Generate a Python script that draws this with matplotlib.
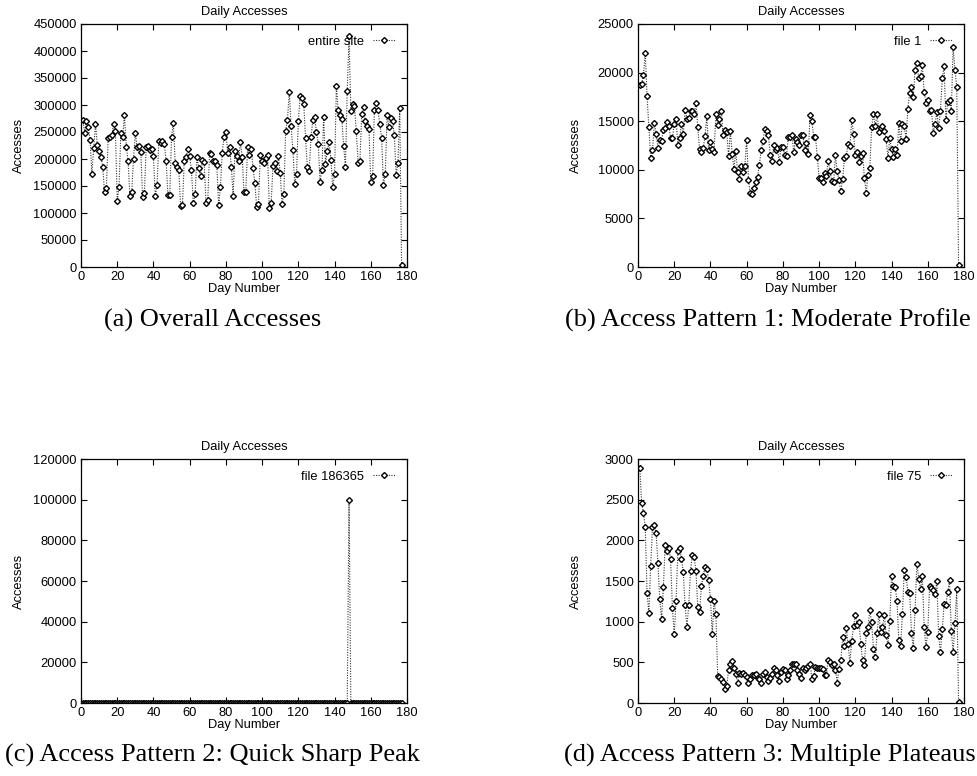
import matplotlib
matplotlib.use("Agg")
import matplotlib.pyplot as plt
import numpy as np

days = list(range(1, 178))

entire_site = [
    273000, 249000, 270000, 260000, 236000, 172000, 220000, 265000, 226000, 214000,
    203000, 186000, 138000, 146000, 238000, 241000, 244000, 264000, 252000, 123000,
    148000, 248000, 241000, 281000, 223000, 196000, 131000, 139000, 200000, 248000,
    222000, 225000, 213000, 130000, 137000, 222000, 224000, 216000, 218000, 205000,
    131000, 152000, 234000, 229000, 233000, 227000, 197000, 133000, 133000, 241000,
    267000, 193000, 186000, 180000, 113000, 114000, 197000, 203000, 218000, 205000,
    179000, 118000, 135000, 203000, 184000, 168000, 198000, 195000, 119000, 125000,
    212000, 210000, 196000, 197000, 188000, 114000, 149000, 212000, 241000, 250000,
    212000, 222000, 186000, 132000, 215000, 206000, 197000, 231000, 204000, 139000,
    139000, 222000, 207000, 219000, 183000, 155000, 111000, 117000, 208000, 197000,
    192000, 202000, 208000, 110000, 119000, 187000, 193000, 178000, 205000, 175000,
    117000, 135000, 252000, 273000, 325000, 262000, 217000, 154000, 172000, 270000,
    317000, 313000, 301000, 238000, 185000, 178000, 240000, 273000, 277000, 250000,
    228000, 157000, 180000, 277000, 191000, 215000, 231000, 199000, 148000, 172000,
    335000, 291000, 281000, 275000, 225000, 185000, 326000, 427000, 289000, 302000,
    298000, 252000, 193000, 197000, 283000, 296000, 270000, 262000, 256000, 157000,
    168000, 290000, 304000, 291000, 264000, 239000, 151000, 173000, 281000, 260000,
    276000, 271000, 244000, 171000, 193000, 295000, 3000,
]

file_1 = [
    18700, 18800, 19800, 22000, 17600, 14400, 11200, 12000, 14800, 13700,
    12200, 13100, 13000, 14100, 14300, 14900, 14500, 13300, 13300, 14700,
    15200, 12600, 13300, 14700, 13700, 16200, 15200, 15300, 16100, 16100,
    15700, 16900, 14400, 12100, 11800, 12200, 13500, 15500, 12000, 12900,
    12100, 11800, 15700, 14600, 15200, 16000, 13600, 14100, 13900, 11400,
    14000, 11600, 10100, 11900, 9800, 9100, 10400, 9800, 10400, 13100,
    9000, 7600, 7500, 8100, 8700, 9300, 10500, 12000, 13000, 14200,
    14000, 13600, 11500, 10900, 12600, 12000, 12200, 10800, 12300, 12300,
    11500, 11400, 13400, 13400, 13600, 11800, 13200, 12900, 12600, 13600,
    13600, 12000, 12800, 11600, 15600, 15000, 13400, 13400, 11300, 9200,
    9200, 8700, 9700, 9400, 10900, 9900, 8800, 8700, 11500, 9900,
    8900, 7800, 9100, 11200, 11400, 12700, 12400, 15100, 13700, 11500,
    11800, 10800, 11400, 11700, 9200, 7600, 9500, 10200, 14400, 15700,
    14500, 15700, 13900, 14300, 14500, 14000, 13200, 11200, 13300, 12100,
    11300, 12100, 11500, 14800, 13000, 14700, 14500, 13200, 16300, 17900,
    18500, 17500, 20300, 21000, 19400, 19600, 20800, 18000, 16900, 17200,
    16000, 16200, 13800, 14700, 15900, 14300, 16100, 19400, 20700, 15100,
    17000, 17200, 16100, 22600, 20300, 18500, 200,
]

file_186365 = [0] * 147 + [100000] + [0] * 29

file_75 = [
    2885, 2460, 2340, 2165, 1355, 1110, 1690, 2160, 2185, 2090,
    1725, 1280, 1030, 1425, 1940, 1875, 1905, 1765, 1170, 845,
    1255, 1865, 1910, 1765, 1610, 1200, 930, 1200, 1625, 1815,
    1790, 1620, 1180, 1125, 1435, 1560, 1670, 1645, 1515, 1280,
    850, 1255, 1090,
    335, 320, 300, 255, 175, 210, 405, 480, 515, 435,
    360, 245, 365, 355, 370, 340, 320, 245, 295, 350,
    340, 360, 305, 290, 245, 355, 380, 325, 270, 310,
    360, 430, 405, 340, 270, 380,
    423, 400, 300, 340, 410, 485, 485, 485, 410, 360,
    312, 430, 410, 435, 455, 485, 300, 330, 445, 435,
    435, 430, 423, 340, 340, 525, 505, 470, 485, 410,
    250, 420, 525, 815, 700, 925, 730, 495, 760, 945,
    1080, 955, 1000, 730, 525, 465, 855, 935, 1145, 990,
    670, 560, 855, 1100, 875, 935, 1085, 835, 710, 1010,
    1560, 1440, 1430, 1255, 780, 700, 1095, 1630, 1555, 1370,
    1355, 865, 675, 1145, 1715, 1530, 1400, 1565, 935, 690,
    875, 1440, 1420, 1385, 1335, 1505, 825, 625, 905, 1215,
    1205, 1365, 1510, 885, 625, 980, 1400, 10,
]

panels = [
    dict(y=entire_site, label="entire site", ymax=450000, ystep=50000,
         caption="(a) Overall Accesses"),
    dict(y=file_1, label="file 1", ymax=25000, ystep=5000,
         caption="(b) Access Pattern 1: Moderate Profile"),
    dict(y=file_186365, label="file 186365", ymax=120000, ystep=20000,
         caption="(c) Access Pattern 2: Quick Sharp Peak"),
    dict(y=file_75, label="file 75", ymax=3000, ystep=500,
         caption="(d) Access Pattern 3: Multiple Plateaus"),
]

W, H = 978, 776
fig = plt.figure(figsize=(W / 100, H / 100), dpi=100)
plt.rcParams['font.family'] = ['Liberation Sans', 'DejaVu Sans']

# axes rectangles in pixels: left, top, right, bottom
rects = [(81, 24, 407, 267), (638, 24, 964, 267),
         (81, 459, 407, 703), (638, 459, 964, 703)]
cap_pos = [(213, 320), (768, 320), (212, 755), (770, 755)]

fs = 9.3
for p, r, cp in zip(panels, rects, cap_pos):
    l, t, rr, b = r
    ax = fig.add_axes([l / W, 1 - b / H, (rr - l) / W, (b - t) / H])
    n = min(len(days), len(p["y"]))
    ax.plot(days[:n], p["y"][:n], linestyle=(0, (1, 1.3)), color="#333333",
            lw=0.8, marker="D", markersize=3.0, markerfacecolor="white",
            markeredgecolor="black", markeredgewidth=1.0, label=p["label"])
    ax.set_xlim(0, 180)
    ax.set_ylim(0, p["ymax"])
    ax.set_xticks(np.arange(0, 181, 20))
    ax.set_yticks(np.arange(0, p["ymax"] + 1, p["ystep"]))
    ax.tick_params(direction="in", length=4, width=0.8, top=True, right=True,
                   labelsize=fs, pad=3)
    for s in ax.spines.values():
        s.set_linewidth(0.9)
    ax.set_title("Daily Accesses", fontsize=fs, pad=6.5)
    ax.set_xlabel("Day Number", fontsize=fs, labelpad=0)
    ax.set_ylabel("Accesses", fontsize=fs)
    ax.yaxis.set_label_coords(-0.172, 0.5)
    ax.legend(loc="upper right", frameon=False, markerfirst=False,
              fontsize=fs, handlelength=1.7, handletextpad=0.7,
              borderaxespad=0.5, numpoints=1)
    fig.text(cp[0] / W, 1 - cp[1] / H, p["caption"], ha="center", va="center",
             fontsize=19, family=["Liberation Serif", "DejaVu Serif"])

fig.savefig("out.png", dpi=100)
